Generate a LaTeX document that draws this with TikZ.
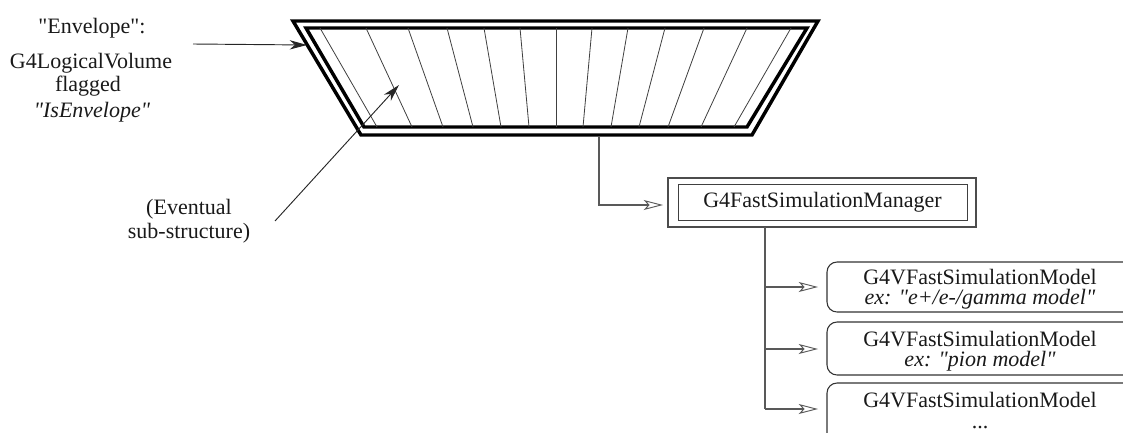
\documentclass[tikz,border=0pt]{standalone}
\usepackage{fontspec}
\setmainfont{Liberation Serif}[Ligatures=TeXOff]
\usetikzlibrary{arrows.meta}
\tikzset{
  x=0.75pt,y=-0.75pt,
  thickwall/.style={draw=black,line width=2.6pt,line join=miter,miter limit=10},
  hatchline/.style={draw=black!75,line width=0.6pt},
  solidarrow/.style={draw=black!85,line width=0.7pt,-{Stealth[length=13pt,width=7pt,inset=4pt]}},
  openarrow/.style={draw=black!65,line width=0.8pt,-{Stealth[length=14.5pt,width=7.5pt,inset=3.5pt,fill=white,line width=0.7pt]}},
  branch/.style={draw=black!65,line width=0.8pt},
  txt/.style={inner sep=0pt,anchor=base,font=\fontsize{16.5pt}{18pt}\selectfont,align=center,text=black!90},
  outerbox/.style={draw=black!70,line width=0.8pt},
  thinbox/.style={draw=black!75,line width=0.7pt,txt,anchor=center},
  modelbox/.style={draw=black!80,line width=0.8pt,rounded corners=7.5pt}
}
\begin{document}
\begin{tikzpicture}
\useasboundingbox (0,0) rectangle (1123,432);
\clip (0,0) rectangle (1123,432);
% envelope
\draw[thickwall] (293,21) -- (818,21) -- (752,135) -- (361,135) -- cycle;
\draw[thickwall] (306,28) -- (807,28) -- (747,127) -- (364,127) -- cycle;
\foreach \a/\b in {320/377,366/412,408/443,447/473,484/501,520/529,556/556,592/583,628/611,665/639,704/668,747/701,791/734}
  \draw[hatchline] (\a,28) -- (\b,127);
\coordinate (env) at (307,45);
\coordinate (envstart) at (193,44);
\coordinate (sub) at (399,85);
\coordinate (substart) at (275,221);
\draw[solidarrow] (envstart) -- (env);
\draw[solidarrow] (substart) -- (sub);
% labels
\node[txt] (l1) at (92,33) {"Envelope":};
\node[txt] (l2) at (91,68) {G4LogicalVolume};
\node[txt] (l3) at (88,91) {flagged};
\node[txt] (l4) at (92,117) {\itshape "IsEnvelope"};
\node[txt] (l5) at (189,214) {(Eventual};
\node[txt] (l6) at (189,238) {sub-structure)};
% manager
\coordinate (envbottom) at (599,137);
\draw[outerbox] (668,178) rectangle (976,227);
\node[thinbox,minimum width=216.75pt,minimum height=26.6pt] (mgr) at (822.5,202.5) {G4FastSimulationManager};
\coordinate (mgrin) at (663,205);
\draw[openarrow] (envbottom) |- (mgrin);
\coordinate (mgrout) at (765,227);
\coordinate (j1) at (765,287);
\coordinate (j2) at (765,349);
\coordinate (j3) at (765,409);
\draw[branch] (mgrout) -- (j3);
% models
\coordinate (m1) at (818,287);
\coordinate (m2) at (818,349);
\coordinate (m3) at (818,409);
\draw[openarrow] (j1) -- (m1);
\draw[openarrow] (j2) -- (m2);
\draw[openarrow] (j3) -- (m3);
\draw[modelbox] (1140,262) -- (827,262) -- (827,312) -- (1140,312);
\draw[modelbox] (1140,322) -- (827,322) -- (827,375) -- (1140,375);
\draw[modelbox] (1140,383) -- (827,383) -- (827,450);
\node[txt] (t1) at (980,284) {G4VFastSimulationModel};
\node[txt] (t1b) at (980,304) {\itshape ex: "e+/e-/gamma model"};
\node[txt] (t2) at (980,346) {G4VFastSimulationModel};
\node[txt] (t2b) at (980,366) {\itshape ex: "pion model"};
\node[txt] (t3) at (980,407) {G4VFastSimulationModel};
\node[txt] (t3b) at (980,428) {...};
\end{tikzpicture}
\end{document}
